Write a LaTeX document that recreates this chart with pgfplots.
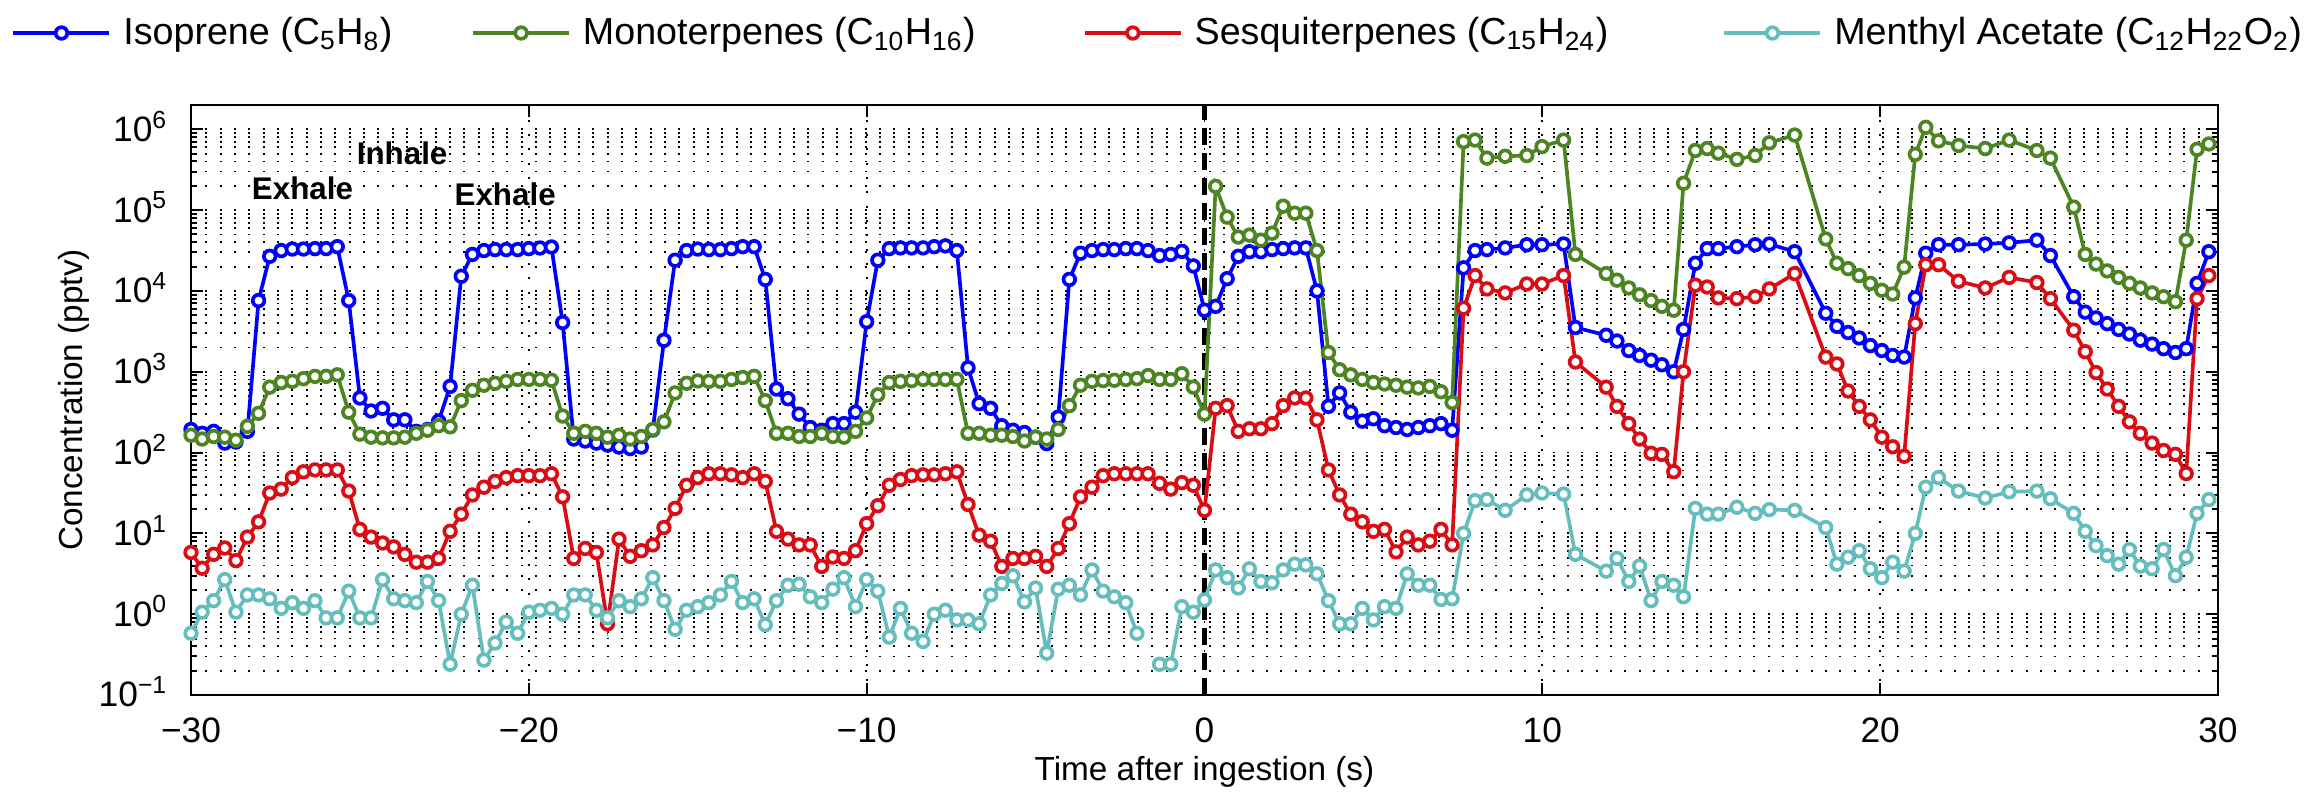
\documentclass[border=0pt]{standalone}
\usepackage{fontspec}
\setmainfont{Liberation Sans}
\usepackage{pgfplots}
\usepackage{pgfplotstable}
\pgfplotsset{compat=1.18}
\definecolor{cIso}{rgb}{0,0,1}
\definecolor{cMono}{rgb}{0.30,0.52,0.13}
\definecolor{cSesq}{rgb}{0.86,0.05,0.08}
\definecolor{cMent}{rgb}{0.40,0.74,0.74}

\pgfplotstableread{
t iso mono sesq ment
-30.00 193 164 5.8 0.58
-29.67 173 147 3.7 1.06
-29.33 183 158 5.5 1.47
-29.00 131 155 6.6 2.68
-28.67 135 142 4.6 1.06
-28.33 183 211 9.0 1.73
-28.00 7600 306 13.9 1.73
-27.67 26800 645 31.6 1.55
-27.33 31600 736 35.3 1.18
-27.00 33000 761 49 1.39
-26.67 33000 821 57.8 1.18
-26.33 33400 877 61 1.47
-26.00 33400 877 61 0.90
-25.67 35300 916 61 0.90
-25.33 7600 316 33.4 1.93
-25.00 474 169 11.2 0.90
-24.67 327 155 9.0 0.90
-24.33 353 152 7.6 2.68
-24.00 254 152 6.8 1.55
-23.67 254 155 5.5 1.47
-23.33 183 173 4.4 1.39
-23.00 193 189 4.4 2.54
-22.67 245 215 4.9 1.47
-22.33 659 208 10.6 0.24
-22.00 15200 439 17.3 1.0
-21.67 28300 590 29.9 2.28
-21.33 31600 681 37.3 0.27
-21.00 32500 720 44 0.44
-20.67 32500 761 49 0.80
-20.33 32500 803 51.8 0.58
-20.00 33400 803 51.8 1.06
-19.67 34000 803 51.8 1.12
-19.33 35000 785 54.7 1.18
-19.00 4070 283 28.3 1.0
-18.67 147 173 4.9 1.73
-18.33 139 183 6.5 1.73
-18.00 131 173 5.8 1.12
-17.67 124 155 0.76 0.90
-17.33 117 164 8.5 1.47
-17.00 112 147 5.2 1.24
-16.67 117 158 6.1 1.55
-16.33 190 193 7.2 2.83
-16.00 2450 240 11.8 1.47
-15.67 24000 547 20.4 0.65
-15.33 31600 720 39.4 1.12
-15.00 33000 770 49 1.24
-14.67 32500 761 54.7 1.39
-14.33 32500 761 54.7 1.73
-14.00 33400 803 53 2.54
-13.67 35300 849 49 1.39
-13.33 35300 877 54.7 1.55
-13.00 13900 439 44 0.74
-12.67 611 173 10.6 1.47
-12.33 464 173 8.5 2.28
-12.00 299 158 7.2 2.35
-11.67 204 158 7.2 1.64
-11.33 189 173 3.9 1.39
-11.00 228 158 5.1 2.04
-10.67 228 155 4.9 2.83
-10.33 316 183 6.1 1.24
-10.00 4160 268 13.2 2.68
-9.67 24000 518 22 1.93
-9.33 33400 736 39.4 0.52
-9.00 34100 761 46.4 1.18
-8.67 34100 777 51.8 0.58
-8.33 34100 803 53 0.46
-8.00 35300 803 53 1.0
-7.67 36100 803 54.7 1.12
-7.33 31600 803 57.8 0.85
-7.00 1120 173 22.8 0.85
-6.67 403 173 9.5 0.76
-6.33 353 164 8.0 1.73
-6.00 215 164 3.9 2.40
-5.67 189 158 4.9 2.99
-5.33 177 139 4.9 1.42
-5.00 155 155 5.2 2.11
-4.67 129 147 3.9 0.33
-4.33 274 193 6.5 2.04
-4.00 13900 381 13.2 2.28
-3.67 29300 681 28.3 1.73
-3.33 31600 761 37.3 3.53
-3.00 32500 777 51.8 1.93
-2.67 32500 785 54.7 1.64
-2.33 33400 803 54.7 1.39
-2.00 33400 821 54.7 0.58
-1.67 31600 896 54.7 nan
-1.33 27400 803 41.6 0.24
-1.00 28300 803 35.3 0.24
-0.67 30900 946 42.5 1.24
-0.33 20400 645 39.4 1.06
0.00 5780 299 19.3 1.5
0.33 6450 197000 353 3.53
0.67 14200 82000 381 2.83
1.00 26800 46400 183 2.11
1.33 30600 49000 197 3.65
1.67 30600 42500 197 2.54
2.00 32500 51800 228 2.45
2.33 33400 112000 381 3.53
2.67 34100 91700 474 4.16
3.00 34100 91700 474 4.07
3.33 10000 31600 254 3.16
3.67 373 1730 61 1.47
4.00 547 1060 29.9 0.76
4.33 316 916 17.3 0.76
4.67 245 803 13.9 1.18
5.00 262 736 10.6 0.85
5.33 215 705 11.2 1.24
5.67 204 681 5.9 1.18
6.00 193 645 9.0 3.16
6.33 204 631 7.2 2.28
6.67 215 659 8.0 2.28
7.00 228 565 11.2 1.52
7.33 189 416 7.2 1.55
7.67 19300 705000 6110 10.0
8.01 31600 736000 15500 25.4
8.36 32500 440000 10600 26.2
8.90 34100 464000 9460 19.3
9.54 37300 474000 12200 29.9
9.99 37300 611000 12200 31.6
10.63 38100 736000 15500 30.6
10.98 3530 28300 1320 5.5
11.89 2830 16400 645 3.41
12.21 2400 13600 373 4.9
12.56 1830 10900 228 2.54
12.88 1590 8960 147 3.94
13.22 1390 7600 98 1.47
13.54 1220 6450 95 2.54
13.89 1000 5780 58 2.28
14.18 3340 215000 1000 1.64
14.53 22000 547000 11800 20.4
14.88 33400 578000 11200 17.3
15.21 33400 507000 8200 17.3
15.76 35300 425000 8030 21.1
16.30 37300 474000 8490 17.7
16.72 38100 681000 10600 19.7
17.47 30600 849000 16400 19.3
18.39 5300 44000 1520 11.8
18.72 3650 22000 1250 4.16
19.05 3060 18900 578 5.07
19.38 2620 15500 373 6.1
19.71 2110 12400 254 3.65
20.05 1830 10200 155 2.83
20.37 1590 9160 118 4.4
20.71 1520 19700 90 3.41
21.04 8200 490000 3940 10.0
21.35 29300 1060000 21100 37.3
21.73 37300 720000 21100 49
22.32 37300 631000 13200 33.4
23.11 38100 578000 10900 27.4
23.82 39400 736000 14700 32.7
24.64 42500 547000 12700 33.4
25.04 27400 440000 8030 26.8
25.73 8490 109000 3270 17.7
26.07 5470 28300 1770 10.6
26.39 4640 21500 977 7.05
26.72 3940 17700 611 5.3
27.06 3340 14700 373 4.16
27.38 2930 12400 240 6.3
27.70 2460 10900 173 3.94
28.05 2200 9460 131 3.65
28.39 1930 8490 106 6.3
28.74 1730 7360 95 2.99
29.06 1930 42500 55 5.07
29.38 12400 565000 8030 17.7
29.73 30600 659000 15500 26.2
}\datatable

\begin{document}
\begin{tikzpicture}
\path[use as bounding box] (-57.3pt,-29.4pt) rectangle (639.6pt,208.5pt);
\begin{axis}[
  at={(0pt,0pt)}, anchor=south west,
  scale only axis, width=608.1pt, height=177pt,
  ymode=log, xmin=-30, xmax=30, ymin=0.1, ymax=2e6,
  clip=false,
  unbounded coords=jump,
  axis line style={line width=0.8pt},
  tick align=inside,
  major tick length=3.6pt, minor tick length=1.8pt,
  every tick/.style={black, line width=0.6pt},
  xtick={-30,-20,-10,0,10,20,30},
  xticklabels={−30,−20,−10,0,10,20,30},
  minor x tick num=0,
  ytick={0.1,1,10,100,1000,10000,100000,1000000},
  yticklabels={10\textsuperscript{−1},10\textsuperscript{0},10\textsuperscript{1},10\textsuperscript{2},10\textsuperscript{3},10\textsuperscript{4},10\textsuperscript{5},10\textsuperscript{6}},
  minor ytick={0.2,0.3,0.4,0.5,0.6,0.7,0.8,0.9,2,3,4,5,6,7,8,9,20,30,40,50,60,70,80,90,200,300,400,500,600,700,800,900,2000,3000,4000,5000,6000,7000,8000,9000,20000,30000,40000,50000,60000,70000,80000,90000,200000,300000,400000,500000,600000,700000,800000,900000},
  xmajorgrids, ymajorgrids, yminorgrids,
  major grid style={black, line width=0.55pt, dash pattern=on 0.6pt off 3.7pt},
  minor grid style={black, line width=0.55pt, dash pattern=on 0.6pt off 3.7pt},
  tick label style={font=\fontsize{10.6}{12}\selectfont},
  xticklabel style={yshift=-3.4pt},
  yticklabel style={anchor=base east, yshift=-0.36em, xshift=-3.4pt},
  xlabel={Time after ingestion (s)},
  ylabel={Concentration (pptv)},
  label style={font=\fontsize{11.5}{13}\selectfont},
  every axis x label/.style={at={(axis description cs:0.5,-0.1305)}, anchor=center},
  every axis y label/.style={at={(axis description cs:-0.0577,0.5)}, rotate=90, anchor=center},
  legend columns=4,
  legend cell align=left,
  legend style={at={(-0.0888,1.122)}, anchor=west, draw=none, fill=none,
    inner sep=0pt, font=\fontsize{11.3}{13}\selectfont,
    nodes={inner sep=0pt}, column sep=0pt,
    /tikz/every odd column/.append style={column sep=3.6pt}},
  legend image code/.code={\draw[mark repeat=2,mark phase=2,#1] plot coordinates {(0pt,0pt) (14.4pt,0pt) (28.8pt,0pt)};},
  every axis plot/.append style={line width=1.1pt, mark=*, mark size=1.75pt, mark options={fill=white, solid, line width=1.1pt}},
]
\addplot[black, line width=1.3pt, dash pattern=on 5pt off 2.5pt, mark=none, forget plot] coordinates {(0,0.1) (0,2e6)};
\addplot[cIso] table[x=t, y=iso] {\datatable};
\addlegendentry{\makebox[104.4pt][l]{Isoprene (C\textsubscript{5}H\textsubscript{8})}}
\addplot[cMono] table[x=t, y=mono] {\datatable};
\addlegendentry{\makebox[150pt][l]{Monoterpenes (C\textsubscript{10}H\textsubscript{16})}}
\addplot[cSesq] table[x=t, y=sesq] {\datatable};
\addlegendentry{\makebox[158.4pt][l]{Sesquiterpenes (C\textsubscript{15}H\textsubscript{24})}}
\addplot[cMent] table[x=t, y=ment] {\datatable};
\addlegendentry{Menthyl Acetate (C\textsubscript{12}H\textsubscript{22}O\textsubscript{2})}
\node[font=\bfseries\fontsize{9.4}{11}\selectfont] at (axis cs:-26.7,1.85e5) {Exhale};
\node[font=\bfseries\fontsize{9.4}{11}\selectfont] at (axis cs:-23.75,5.0e5) {Inhale};
\node[font=\bfseries\fontsize{9.4}{11}\selectfont] at (axis cs:-20.7,1.55e5) {Exhale};
\end{axis}
\end{tikzpicture}
\end{document}
